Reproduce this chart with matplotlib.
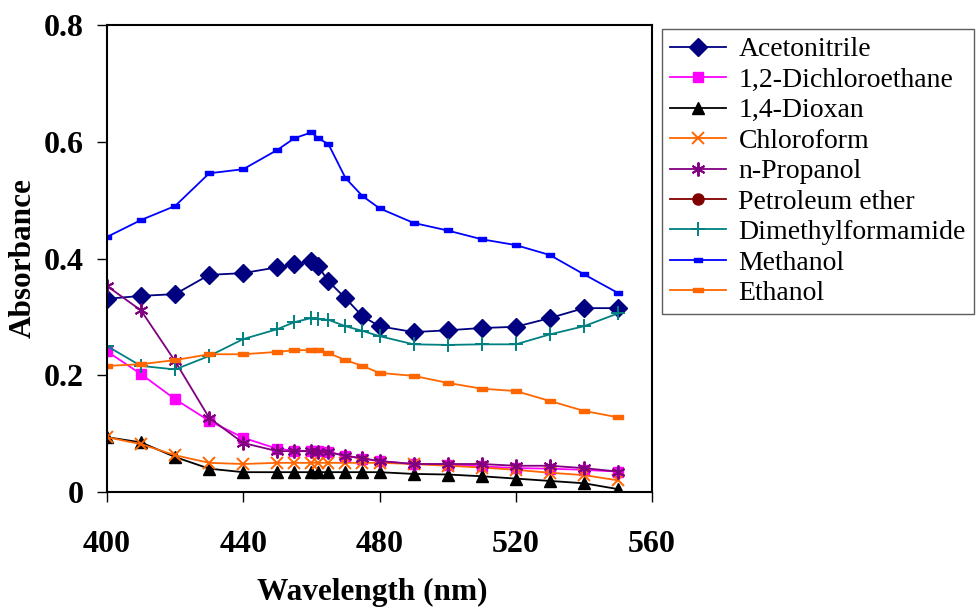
import matplotlib
matplotlib.use('Agg')
import matplotlib.pyplot as plt

plt.rcParams['font.family'] = ['Liberation Serif', 'DejaVu Serif']

wl = [400, 410, 420, 430, 440, 450, 455, 460, 462, 465, 470, 475, 480, 490, 500, 510, 520, 530, 540, 550]

acetonitrile = [0.331, 0.336, 0.339, 0.372, 0.375, 0.385, 0.390, 0.396, 0.387, 0.361, 0.332, 0.301, 0.284, 0.274, 0.277, 0.281, 0.283, 0.298, 0.315, 0.315]
dichloroethane = [0.241, 0.202, 0.159, 0.122, 0.093, 0.074, 0.071, 0.070, 0.070, 0.069, 0.062, 0.057, 0.053, 0.048, 0.047, 0.044, 0.041, 0.040, 0.038, 0.035]
dioxan = [0.094, 0.085, 0.060, 0.040, 0.034, 0.034, 0.034, 0.034, 0.034, 0.034, 0.034, 0.034, 0.034, 0.031, 0.030, 0.027, 0.023, 0.019, 0.015, 0.005]
chloroform = [0.094, 0.082, 0.063, 0.050, 0.048, 0.050, 0.050, 0.050, 0.050, 0.050, 0.050, 0.050, 0.050, 0.048, 0.045, 0.042, 0.038, 0.033, 0.029, 0.020]
propanol = [0.353, 0.311, 0.224, 0.127, 0.084, 0.070, 0.070, 0.070, 0.069, 0.068, 0.062, 0.058, 0.053, 0.048, 0.048, 0.048, 0.045, 0.045, 0.041, 0.035]
petroleum = []
dmf = [0.250, 0.216, 0.210, 0.233, 0.262, 0.279, 0.291, 0.298, 0.296, 0.295, 0.284, 0.276, 0.267, 0.253, 0.252, 0.253, 0.253, 0.270, 0.284, 0.306]
methanol = [0.437, 0.466, 0.490, 0.546, 0.553, 0.586, 0.606, 0.616, 0.606, 0.596, 0.538, 0.507, 0.486, 0.461, 0.448, 0.433, 0.423, 0.406, 0.373, 0.341]
ethanol = [0.216, 0.219, 0.226, 0.236, 0.236, 0.240, 0.243, 0.243, 0.243, 0.238, 0.226, 0.216, 0.204, 0.199, 0.187, 0.177, 0.173, 0.156, 0.139, 0.128]

# short flat bar marker (Excel "dash")
bar = [(-1, -0.45), (1, -0.45), (1, 0.45), (-1, 0.45), (-1, -0.45)]

fig = plt.figure(figsize=(9.78, 6.1), dpi=100)
ax = fig.add_axes([0.1094, 0.1934, 0.5573, 0.7656])

lw = 1.3
ax.plot(wl, acetonitrile, color='#000080', marker='D', ms=9, lw=lw, label='Acetonitrile')
ax.plot(wl, dichloroethane, color='#FF00FF', marker='s', ms=7.5, lw=lw, label='1,2-Dichloroethane')
ax.plot(wl, dioxan, color='black', marker='^', ms=9, lw=lw, label='1,4-Dioxan')
ax.plot(wl, chloroform, color='#FF6600', marker='x', ms=9, mew=1.4, lw=lw, label='Chloroform')
ax.plot(wl, propanol, color='#800080', marker=(6, 2, 0), ms=10, mew=1.4, lw=lw, label='n-Propanol')
ax.plot(petroleum, petroleum, color='#800000', marker='o', ms=8, lw=lw, label='Petroleum ether')
ax.plot(wl, dmf, color='#008080', marker='+', ms=10, mew=1.4, lw=lw, label='Dimethylformamide')
ax.plot(wl, methanol, color='#0000FF', marker=bar, ms=6, lw=lw, label='Methanol')
ax.plot(wl, ethanol, color='#FF6600', marker=bar, ms=7, lw=lw, label='Ethanol')

ax.set_xlim(400, 560)
ax.set_ylim(0, 0.8)
ax.set_xticks([400, 440, 480, 520, 560])
ax.set_yticks([0, 0.2, 0.4, 0.6, 0.8])
ax.set_yticklabels(['0', '0.2', '0.4', '0.6', '0.8'])
for s in ax.spines.values():
    s.set_linewidth(1.5)
ax.tick_params(axis='y', direction='out', length=7, width=1, labelsize=23, pad=10)
ax.tick_params(axis='x', direction='out', length=7, width=1, labelsize=23, pad=20)
for t in ax.get_xticklabels() + ax.get_yticklabels():
    t.set_fontweight('bold')
ax.set_xlabel('Wavelength (nm)', fontsize=22.5, fontweight='bold', labelpad=14)
ax.xaxis.label.set_x(0.487)
ax.set_ylabel('Absorbance', fontsize=22.5, fontweight='bold', labelpad=4)

leg = fig.legend(loc='upper left', bbox_to_anchor=(0.677, 0.953), fontsize=20,
                 frameon=True, fancybox=False, edgecolor='#333333', handlelength=2.0,
                 labelspacing=0.18, borderpad=0.3, handletextpad=0.45, borderaxespad=0)
leg.get_frame().set_linewidth(1.0)

fig.savefig('out.png', dpi=100)
